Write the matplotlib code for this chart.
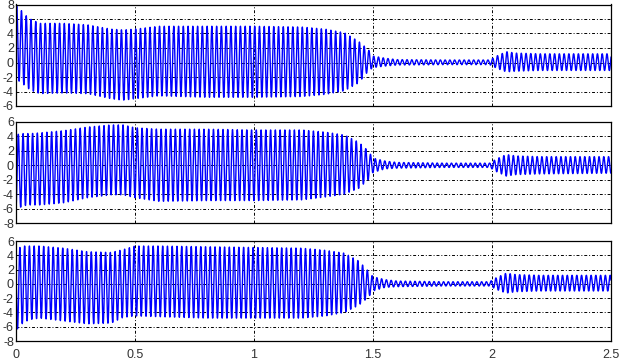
import numpy as np
import matplotlib
matplotlib.use("Agg")
import matplotlib.pyplot as plt

plt.rcParams["axes.unicode_minus"] = False
plt.rcParams["font.family"] = ["Liberation Sans", "DejaVu Sans"]

# ---- data -----------------------------------------------------------------
freq_hz = 50.0                    # carrier frequency of the three signals
phase_a = 0.63                    # rad, phase of the first signal at t=0
phase_shift = 2 * np.pi / 3       # 120 degree shift between phases

# envelope knots (time in s)
env_t = [0.0, 0.01, 0.03, 0.06, 0.1, 0.2, 0.3, 0.4, 0.45, 0.5, 0.6, 0.8, 1.0,
         1.2, 1.3, 1.38, 1.44, 1.48, 1.5, 1.55, 1.6, 1.8, 1.99, 2.02, 2.06,
         2.1, 2.2, 2.5]

# top panel (phase A)
a_upper = [7.8, 7.8, 6.8, 6.0, 5.4, 5.4, 5.2, 4.6, 4.5, 4.6, 5.0, 5.0, 5.0,
           4.9, 4.6, 4.1, 2.9, 1.8, 0.9, 0.6, 0.4, 0.35, 0.35, 0.9, 1.5,
           1.3, 1.2, 1.2]
a_lower = [-2.5, -2.5, -3.0, -3.8, -4.3, -4.2, -4.3, -5.0, -5.2, -5.0, -4.6,
           -4.8, -4.8, -4.7, -4.4, -3.9, -2.8, -1.2, -0.7, -0.5, -0.35, -0.3,
           -0.3, -0.8, -1.3, -1.2, -1.1, -1.1]

# middle panel (phase B)
b_upper = [4.3, 4.3, 4.4, 4.4, 4.5, 4.8, 5.3, 5.6, 5.6, 5.2, 5.0, 5.0, 4.9,
           4.9, 4.6, 4.2, 3.2, 2.0, 1.0, 0.6, 0.4, 0.3, 0.3, 0.9, 1.5,
           1.3, 1.2, 1.2]
b_lower = [-6.0, -6.0, -5.6, -5.5, -5.5, -5.2, -4.5, -4.1, -4.1, -4.5, -5.0,
           -4.9, -4.9, -4.8, -4.4, -4.0, -3.2, -2.0, -1.0, -0.5, -0.4, -0.3,
           -0.3, -0.9, -1.5, -1.3, -1.2, -1.1]

# bottom panel (phase C)
c_upper = [5.0, 5.0, 5.3, 5.3, 5.3, 5.0, 4.5, 4.4, 4.8, 5.3, 5.3, 5.2, 5.1,
           5.0, 4.7, 4.3, 3.2, 1.8, 1.0, 0.6, 0.4, 0.3, 0.3, 0.9, 1.5,
           1.3, 1.2, 1.2]
c_lower = [-6.3, -6.3, -5.4, -5.0, -4.8, -5.2, -5.6, -5.5, -4.7, -4.5, -4.6,
           -4.8, -4.8, -4.8, -4.5, -4.0, -3.0, -1.9, -1.0, -0.5, -0.4, -0.3,
           -0.3, -0.8, -1.3, -1.1, -1.0, -1.0]

x_ticks = [0, 0.5, 1, 1.5, 2, 2.5]
x_tick_labels = ["0", "0.5", "1", "1.5", "2", "2.5"]
top_ylim = (-6, 8)
lower_ylim = (-8, 6)

# ---- build signals ---------------------------------------------------------
t = np.linspace(0, 2.5, 25001)


def signal(upper, lower, phase):
    up = np.interp(t, env_t, upper)
    lo = np.interp(t, env_t, lower)
    mid = (up + lo) / 2
    amp = (up - lo) / 2
    return mid + amp * np.sin(2 * np.pi * freq_hz * t + phase)


sig_a = signal(a_upper, a_lower, phase_a)
sig_b = signal(b_upper, b_lower, phase_a - phase_shift)
sig_c = signal(c_upper, c_lower, phase_a + phase_shift)

# ---- figure ----------------------------------------------------------------
W, H = 627, 360
fig = plt.figure(figsize=(W / 100, H / 100), dpi=100)
fig.patch.set_facecolor("white")

left = 16 / W
width = (611 - 16) / W
boxes = [(4.5, 106), (122, 223), (241, 341)]
series = [(sig_a, top_ylim), (sig_b, lower_ylim), (sig_c, lower_ylim)]

for i, ((ytop, ybot), (sig, ylim)) in enumerate(zip(boxes, series)):
    ax = fig.add_axes([left, 1 - ybot / H, width, (ybot - ytop) / H])
    ax.plot(t, sig, color="#0000ff", linewidth=1.0)
    ax.set_xlim(0, 2.5)
    ax.set_ylim(*ylim)
    ax.set_yticks(np.arange(ylim[0], ylim[1] + 1, 2))
    ax.set_xticks(x_ticks)
    if i == 2:
        ax.set_xticklabels(x_tick_labels)
    else:
        ax.set_xticklabels([])
    ax.grid(True, color="black", linewidth=0.7, linestyle=(0, (3, 2, 1, 2)))
    ax.tick_params(length=0, pad=1.5, labelsize=9, colors="#333333")
    ax.tick_params(axis="x", pad=6)
    for sp in ax.spines.values():
        sp.set_linewidth(0.9)
        sp.set_color("black")

fig.savefig("out.png", dpi=100)
